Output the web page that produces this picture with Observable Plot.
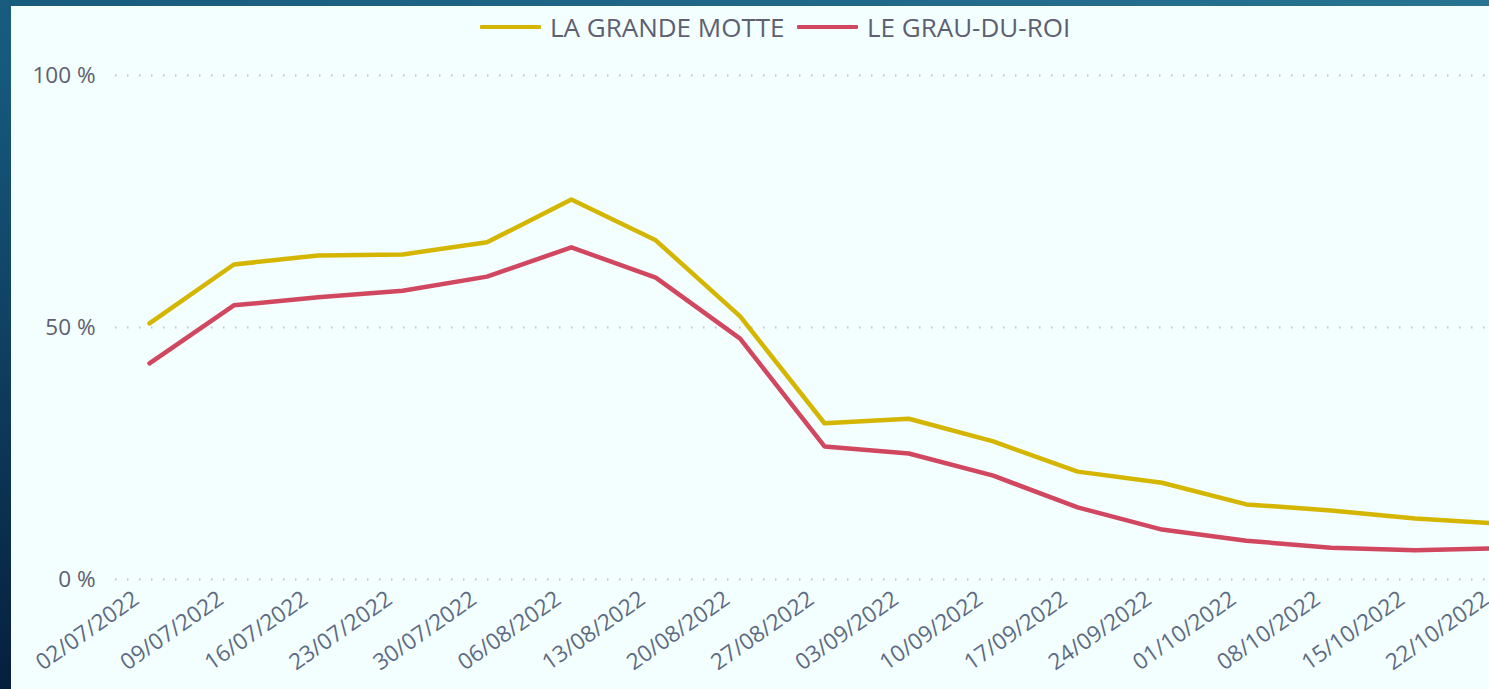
<!DOCTYPE html>
<html>
<head>
<meta charset="utf-8">
<script src="https://cdn.jsdelivr.net/npm/d3@7"></script>
<script src="https://cdn.jsdelivr.net/npm/@observablehq/plot@0.6"></script>
<style>
  html, body { margin: 0; padding: 0; width: 1489px; height: 689px; overflow: hidden; }
  body { background: linear-gradient(to top right, #061f3d 0%, #16597d 45%, #287391 100%); position: relative; font-family: "Open Sans", sans-serif; }
  #panel { position: absolute; left: 11px; top: 6px; width: 1530px; height: 700px; background: #f3fefe; overflow: hidden; }
  #legend { position: absolute; top: 0; left: 0; width: 1530px; height: 42px; font-size: 26px; color: #5d6070; }
  #legend .item { position: absolute; top: 0; height: 42px; display: flex; align-items: center; white-space: nowrap; }
  #legend .sw { display: inline-block; width: 61px; height: 4px; margin-right: 9px; border-radius: 1px; }
  #chart { position: absolute; left: 0; top: 0; }
</style>
</head>
<body>
<div id="panel">
  <div id="legend"></div>
  <div id="chart"></div>
</div>
<script>
const dates = ["02/07/2022","09/07/2022","16/07/2022","23/07/2022","30/07/2022","06/08/2022","13/08/2022","20/08/2022","27/08/2022","03/09/2022","10/09/2022","17/09/2022","24/09/2022","01/10/2022","08/10/2022","15/10/2022","22/10/2022"];
const seriesNames = ["LA GRANDE MOTTE", "LE GRAU-DU-ROI"];
const seriesColors = ["#d4b600", "#d0475f"];
const grandeMotte = [50.8, 62.5, 64.3, 64.5, 66.9, 75.4, 67.3, 52.2, 31.0, 31.9, 27.4, 21.4, 19.2, 14.9, 13.7, 12.1, 11.1];
const grauDuRoi = [42.9, 54.4, 56.0, 57.3, 60.1, 65.9, 59.9, 47.8, 26.4, 25.0, 20.6, 14.3, 9.9, 7.7, 6.3, 5.8, 6.2];
const yTicks = [0, 50, 100];

const parse = d3.utcParse("%d/%m/%Y");
const fmt = d3.utcFormat("%d/%m/%Y");
const rows = [];
[grandeMotte, grauDuRoi].forEach((vals, s) => {
  vals.forEach((v, i) => rows.push({date: parse(dates[i]), value: v, series: seriesNames[s]}));
});

// legend
const legend = document.getElementById("legend");
const legendLefts = [469, 786];
seriesNames.forEach((name, i) => {
  const it = document.createElement("div");
  it.className = "item";
  it.style.left = legendLefts[i] + "px";
  const sw = document.createElement("span");
  sw.className = "sw";
  sw.style.background = seriesColors[i];
  it.appendChild(sw);
  it.appendChild(document.createTextNode(name));
  legend.appendChild(it);
});

const chart = Plot.plot({
  width: 1530,
  height: 683,
  marginTop: 69,
  marginBottom: 110,
  marginLeft: 104,
  marginRight: 42,
  style: {background: "transparent", fontFamily: "Open Sans, sans-serif", color: "#5d6070"},
  x: {type: "utc", domain: [parse(dates[0]), parse(dates[dates.length - 1])], insetLeft: 34},
  y: {domain: [0, 100]},
  color: {domain: seriesNames, range: seriesColors},
  marks: [
    Plot.ruleY(yTicks, {stroke: "#b9c2d8", strokeWidth: 1.8, strokeDasharray: "1.5 10.5"}),
    Plot.axisY(yTicks, {tickSize: 0, tickPadding: 20, fontSize: 22.5, label: null, tickFormat: d => d + " %", fill: "#5d6070"}),
    Plot.axisX(dates.map(parse), {tickSize: 0, tickRotate: -35, fontSize: 22.5, label: null, tickFormat: fmt, tickPadding: 17, dx: -13, fill: "#5d6b82"}),
    Plot.line(rows, {x: "date", y: "value", z: "series", stroke: "series", strokeWidth: 4.5, strokeLinejoin: "round", strokeLinecap: "round"})
  ]
});
document.getElementById("chart").appendChild(chart);
</script>
</body>
</html>
